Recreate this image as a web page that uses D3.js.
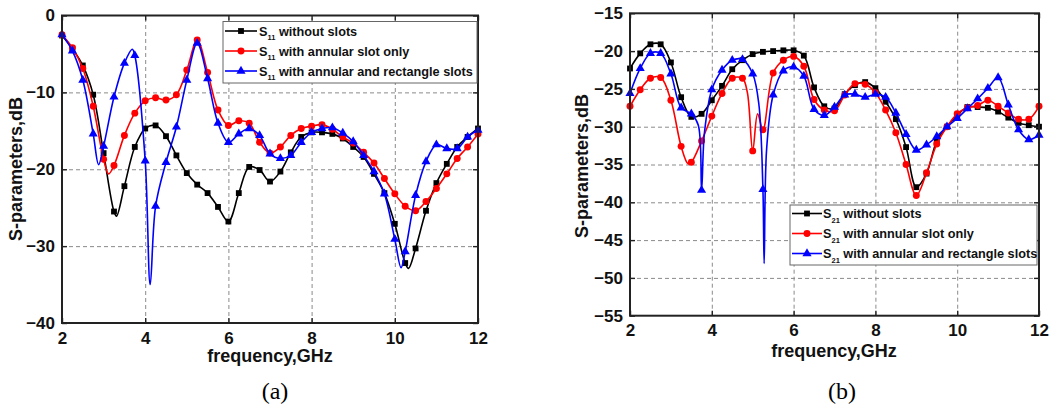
<!DOCTYPE html>
<html>
<head>
<meta charset="utf-8">
<script src="https://cdn.jsdelivr.net/npm/d3@7"></script>
<style>
  body { margin: 0; background: #fff; }
  svg { display: block; background: #fff; }
  .grid line { stroke: #8a8a8a; stroke-width: 1; stroke-dasharray: 4,3; }
  .grid path { display: none; }
  .axis path { display: none; }
  .axis line { stroke: #222; stroke-width: 1.4; }
  .axis text { font-family: "Liberation Sans", Arial, sans-serif; font-weight: bold; font-size: 17px; fill: #111; }
  .label { font-family: "Liberation Sans", Arial, sans-serif; font-weight: bold; font-size: 18px; fill: #111; }
  .caption { font-family: "Liberation Serif", "Times New Roman", serif; font-size: 24px; fill: #000; }
  .legend text { font-family: "Liberation Sans", Arial, sans-serif; font-weight: bold; font-size: 12.7px; fill: #111; }
</style>
</head>
<body>
<svg id="chart" width="1054" height="408"></svg>
<script>
// frequency points where the markers sit (GHz)
const freq = [2, 2.25, 2.5, 2.75, 3, 3.25, 3.5, 3.75, 4, 4.25, 4.5, 4.75, 5, 5.25, 5.5, 5.75,
  6, 6.25, 6.5, 6.75, 7, 7.25, 7.5, 7.75, 8, 8.25, 8.5, 8.75, 9, 9.25, 9.5, 9.75,
  10, 10.25, 10.5, 10.75, 11, 11.25, 11.5, 11.75, 12];

const xTicks = [2, 4, 6, 8, 10, 12];
const yTicksA = [0, -10, -20, -30, -40];
const yTicksB = [-15, -20, -25, -30, -35, -40, -45, -50, -55];

// (a) S11
const s11NoSlot = [-2.6, -4.3, -6.5, -10.3, -17.9, -25.5, -22.2, -17.1, -14.7, -14.3, -15.7, -18.2, -20.5, -22.0, -23.1, -24.9,
  -26.8, -23.1, -19.7, -20.1, -21.6, -20.3, -17.8, -15.8, -15.2, -15.2, -15.4, -16.0, -17.1, -18.4, -20.6, -23.1,
  -27.1, -32.2, -30.3, -25.4, -21.8, -19.3, -17.1, -15.8, -14.7];
const s11NoSlotExtra = [[3.31, -26.1], [10.33, -32.9]];

const s11Annular = [-2.5, -4.2, -6.9, -11.8, -18.7, -19.5, -15.6, -12.7, -11.1, -10.7, -11.0, -10.3, -7.1, -3.2, -7.4, -12.3,
  -14.3, -13.7, -14.0, -16.5, -17.9, -17.1, -15.6, -14.7, -14.4, -14.2, -14.8, -15.8, -16.6, -17.8, -19.2, -21.2,
  -23.2, -24.8, -25.4, -24.2, -22.5, -20.6, -18.6, -17.1, -15.4];
const s11AnnularExtra = [[3.12, -20.6]];

const s11Both = [-2.5, -4.6, -8.4, -15.4, -17.0, -10.6, -6.2, -5.2, -18.9, -24.8, -19.1, -14.5, -8.4, -3.6, -8.2, -14.0,
  -16.5, -15.4, -14.7, -15.6, -18.0, -18.6, -18.2, -16.5, -15.2, -14.7, -14.6, -15.3, -16.4, -18.2, -20.3, -23.2,
  -29.1, -30.7, -23.4, -19.0, -16.8, -17.3, -17.3, -15.8, -14.9];
const s11BothExtra = [[2.88, -19.4], [3.69, -4.4], [4.12, -35.0], [10.15, -32.8]];

// (b) S21
const s21NoSlot = [-22.3, -20.3, -19.1, -19.1, -21.5, -26.1, -28.7, -28.3, -26.5, -24.6, -22.4, -21.2, -20.4, -20.1, -20.0, -19.9,
  -19.9, -20.6, -24.8, -27.3, -27.6, -25.7, -24.5, -24.1, -24.9, -26.7, -29.0, -32.7, -38.0, -36.2, -31.9, -30.0,
  -28.5, -27.4, -27.4, -27.5, -28.0, -28.8, -29.5, -29.8, -30.0];
const s21NoSlotExtra = [];

const s21Annular = [-27.3, -25.1, -23.6, -23.5, -26.5, -32.6, -34.7, -31.9, -28.6, -25.6, -23.6, -23.6, -33.2, -30.4, -22.9, -21.2,
  -20.7, -22.0, -26.4, -27.8, -27.9, -25.8, -24.3, -24.4, -25.5, -27.8, -30.8, -35.0, -39.1, -36.1, -32.3, -30.0,
  -28.3, -27.5, -27.2, -26.5, -27.3, -28.2, -29.0, -29.0, -27.3];
const s21AnnularExtra = [[3.42, -34.9], [4.87, -25.5], [5.12, -28.3]];

const s21Both = [-25.6, -22.3, -20.3, -20.3, -23.0, -27.5, -28.3, -38.4, -25.1, -22.5, -21.2, -21.1, -23.0, -38.3, -25.8, -22.6,
  -22.1, -23.3, -27.7, -28.5, -27.4, -25.8, -25.7, -26.1, -25.7, -26.1, -28.2, -31.0, -33.1, -32.4, -31.3, -30.0,
  -28.9, -27.6, -26.3, -24.9, -23.5, -27.1, -30.4, -31.7, -31.1];
const s21BothExtra = [[3.67, -29.8], [3.82, -30.8], [5.15, -27.0], [5.28, -48.1], [5.34, -33.0]];

const legendNames = ["without slots", "with annular slot only", "with annular and rectangle slots"];

class SParamChart {

    constructor(_config, _series) {
        this.config = _config;
        this.series = _series;
        this.initVis();
    }

    initVis() {
        let vis = this;
        const c = vis.config;

        vis.width = c.right - c.left;
        vis.height = c.bottom - c.top;

        vis.g = d3.select(c.parentElement).append('g')
            .attr('transform', `translate(${c.left},${c.top})`);

        vis.x = d3.scaleLinear().domain([2, 12]).range([0, vis.width]);
        vis.y = d3.scaleLinear().domain(c.yDomain).range([vis.height, 0]);

        // dashed grid, inner lines only
        const innerX = xTicks.slice(1, -1);
        const innerY = c.yTicks.slice(1, -1);
        vis.g.append('g').attr('class', 'grid')
            .attr('transform', `translate(0,${vis.height})`)
            .call(d3.axisBottom(vis.x).tickValues(innerX).tickSize(-vis.height).tickFormat(''));
        vis.g.append('g').attr('class', 'grid')
            .call(d3.axisLeft(vis.y).tickValues(innerY).tickSize(-vis.width).tickFormat(''));

        vis.renderVis();
        vis.renderAxes();
        vis.renderLegend();
    }

    renderVis() {
        let vis = this;

        vis.g.append('clipPath').attr('id', vis.config.id + '-clip')
            .append('rect').attr('width', vis.width).attr('height', vis.height);

        const line = d3.line()
            .x(d => vis.x(d[0]))
            .y(d => vis.y(d[1]))
            .curve(d3.curveCatmullRom.alpha(0.5));

        vis.series.forEach(s => {
            const marks = freq.map((f, i) => [f, s.values[i]]);
            const pts = marks.concat(s.extra).sort((a, b) => a[0] - b[0]);

            vis.g.append('path')
                .datum(pts)
                .attr('clip-path', `url(#${vis.config.id}-clip)`)
                .attr('fill', 'none')
                .attr('stroke', s.color)
                .attr('stroke-width', 1.6)
                .attr('d', line);

            vis.g.selectAll(null)
                .data(marks)
                .join('path')
                .attr('transform', d => `translate(${vis.x(d[0])},${vis.y(d[1])})`)
                .attr('d', d3.symbol().type(s.shape).size(s.size))
                .attr('fill', s.color);
        });
    }

    renderAxes() {
        let vis = this;
        const c = vis.config;

        vis.g.append('rect')
            .attr('width', vis.width).attr('height', vis.height)
            .attr('fill', 'none').attr('stroke', '#222').attr('stroke-width', 2);

        const fontFix = g => g.attr('font-family', null).attr('font-size', null);

        vis.g.append('g').attr('class', 'axis')
            .attr('transform', `translate(0,${vis.height})`)
            .call(d3.axisBottom(vis.x).tickValues(xTicks).tickSize(-5).tickPadding(c.xPad))
            .call(fontFix);
        vis.g.append('g').attr('class', 'axis')
            .call(d3.axisTop(vis.x).tickValues(xTicks).tickSize(-5).tickFormat(''));
        vis.g.append('g').attr('class', 'axis')
            .call(d3.axisLeft(vis.y).tickValues(c.yTicks).tickSize(-5).tickPadding(7))
            .call(fontFix);
        vis.g.append('g').attr('class', 'axis')
            .attr('transform', `translate(${vis.width},0)`)
            .call(d3.axisRight(vis.y).tickValues(c.yTicks).tickSize(-5).tickFormat(''));

        const svg = d3.select(c.parentElement);
        svg.append('text').attr('class', 'label')
            .attr('x', c.xLabel[0]).attr('y', c.xLabel[1])
            .attr('text-anchor', 'middle')
            .text('frequency,GHz');
        svg.append('text').attr('class', 'label')
            .attr('transform', `translate(${c.yLabel[0]},${c.yLabel[1]}) rotate(-90)`)
            .attr('text-anchor', 'middle').attr('dy', '0.35em')
            .text('S-parameters,dB');
        svg.append('text').attr('class', 'caption')
            .attr('x', c.caption[0]).attr('y', c.caption[1])
            .attr('text-anchor', 'middle')
            .text(c.captionText);
    }

    renderLegend() {
        let vis = this;
        const L = vis.config.legend;
        const svg = d3.select(vis.config.parentElement);
        const lg = svg.append('g').attr('class', 'legend');

        lg.append('rect')
            .attr('x', L.x0).attr('y', L.y0)
            .attr('width', L.x1 - L.x0).attr('height', L.y1 - L.y0)
            .attr('fill', '#fff').attr('stroke', '#666').attr('stroke-width', 1);

        vis.series.forEach((s, i) => {
            const yy = L.rows[i];
            lg.append('line')
                .attr('x1', L.line[0]).attr('x2', L.line[1])
                .attr('y1', yy).attr('y2', yy)
                .attr('stroke', s.color).attr('stroke-width', 1.6);
            lg.append('path')
                .attr('transform', `translate(${(L.line[0] + L.line[1]) / 2},${yy})`)
                .attr('d', d3.symbol().type(s.shape).size(s.size))
                .attr('fill', s.color);
            const t = lg.append('text').attr('x', L.textX).attr('y', yy + 4.5);
            t.append('tspan').text('S');
            t.append('tspan').attr('font-size', '7.5px').attr('dy', 4.5).text(vis.config.sub);
            t.append('tspan').attr('dy', -4.5).text(' ' + legendNames[i]);
        });
    }
}

function makeSeries(a, ae, b, be, c, ce) {
    return [
        { values: a, extra: ae, color: '#000000', shape: d3.symbolSquare, size: 34 },
        { values: b, extra: be, color: '#ff0000', shape: d3.symbolCircle, size: 38 },
        { values: c, extra: ce, color: '#0000ff', shape: d3.symbolTriangle, size: 36 }
    ];
}

new SParamChart({
    parentElement: '#chart', id: 'pa',
    left: 62, right: 478, top: 15.5, bottom: 323,
    yDomain: [-40, 0], yTicks: yTicksA, xPad: 9,
    xLabel: [270, 362], yLabel: [16, 169],
    caption: [275, 399], captionText: '(a)', sub: '11',
    legend: { x0: 223, y0: 21.5, x1: 477, y1: 83, rows: [31, 51, 71], line: [225, 257], textX: 259 }
}, makeSeries(s11NoSlot, s11NoSlotExtra, s11Annular, s11AnnularExtra, s11Both, s11BothExtra));

new SParamChart({
    parentElement: '#chart', id: 'pb',
    left: 630, right: 1039, top: 13.3, bottom: 315.7,
    yDomain: [-55, -15], yTicks: yTicksB, xPad: 8.5,
    xLabel: [834, 357], yLabel: [582, 166],
    caption: [842, 399], captionText: '(b)', sub: '21',
    legend: { x0: 790, y0: 205, x1: 1037, y1: 265, rows: [213.5, 233.5, 253.5], line: [792, 822], textX: 823 }
}, makeSeries(s21NoSlot, s21NoSlotExtra, s21Annular, s21AnnularExtra, s21Both, s21BothExtra));
</script>
</body>
</html>
